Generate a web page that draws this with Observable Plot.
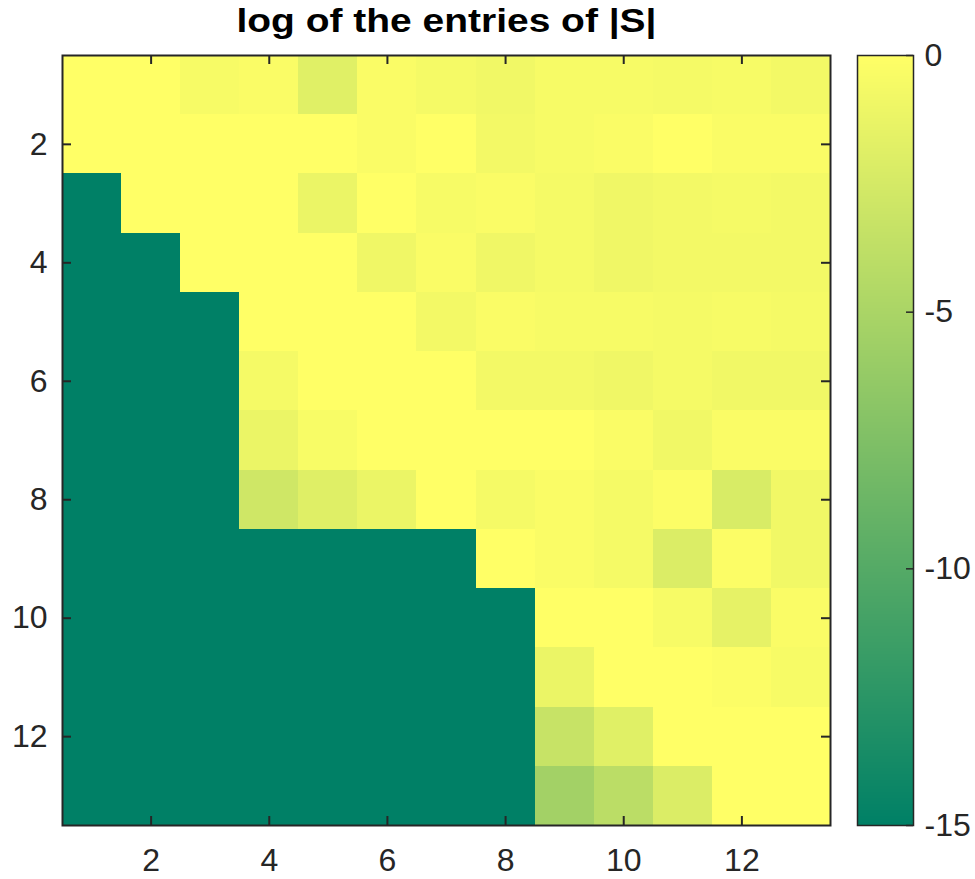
<!DOCTYPE html>
<html>
<head>
<meta charset="utf-8">
<script src="https://cdn.jsdelivr.net/npm/d3@7"></script>
<script src="https://cdn.jsdelivr.net/npm/@observablehq/plot@0.6"></script>
<style>
  html, body { margin: 0; padding: 0; background: #fff; }
  #wrap { display: flex; width: 975px; height: 879px; }
</style>
</head>
<body>
<div id="wrap"></div>
<script>
// log of |S| entries, rows 1..13 (top to bottom), columns 1..13; -15 = floor (zero entries)
const rowLabels = [1,2,3,4,5,6,7,8,9,10,11,12,13];
const colLabels = [1,2,3,4,5,6,7,8,9,10,11,12,13];
const logS = [
  [0, 0, -0.5, -0.3, -1.8, -0.3, -0.6, -0.8, -0.5, -0.5, -0.6, -0.5, -0.7],
  [0, 0, 0, 0, 0, -0.3, 0, -0.7, -0.5, -0.3, 0, -0.3, -0.3],
  [-15, 0, 0, 0, -1.2, 0, -0.5, -0.3, -0.6, -0.9, -0.7, -0.6, -0.7],
  [-15, -15, 0, 0, 0, -0.9, -0.3, -0.9, -0.6, -0.9, -0.7, -0.7, -0.7],
  [-15, -15, -15, 0, 0, 0, -0.7, -0.3, -0.5, -0.5, -0.6, -0.5, -0.6],
  [-15, -15, -15, -0.6, 0, 0, 0, -0.7, -0.7, -0.9, -0.6, -0.8, -0.8],
  [-15, -15, -15, -1.2, -0.4, 0, 0, 0, 0, -0.3, -0.8, -0.3, -0.3],
  [-15, -15, -15, -2.8, -1.9, -1.2, 0, -0.6, -0.3, -0.6, -0.2, -2.3, -0.8],
  [-15, -15, -15, -15, -15, -15, -15, 0, -0.3, -0.6, -2.1, -0.2, -0.8],
  [-15, -15, -15, -15, -15, -15, -15, -15, 0, 0, -0.5, -1.5, -0.3],
  [-15, -15, -15, -15, -15, -15, -15, -15, -1.2, 0, 0, -0.2, -0.5],
  [-15, -15, -15, -15, -15, -15, -15, -15, -3.3, -1.8, 0, 0, 0],
  [-15, -15, -15, -15, -15, -15, -15, -15, -5.4, -4.0, -2.1, 0, 0]
];
const axisTicks = [2, 4, 6, 8, 10, 12];
const colorbarTicks = [0, -5, -10, -15];
const titleText = "log of the entries of |S|";

const cells = [];
rowLabels.forEach((r, i) => colLabels.forEach((c, j) => cells.push({row: r, col: c, v: logS[i][j]})));

const FONT = "'Liberation Sans', Arial, Helvetica, sans-serif";
const summer = ["#008066", "#ffff66"];
const ink = "#262626";
const tickLen = 9;
const labelSize = 32;

const main = Plot.plot({
  width: 845,
  height: 879,
  marginLeft: 62,
  marginRight: 15,
  marginTop: 55,
  marginBottom: 54,
  style: {fontFamily: FONT, fontSize: "32px", color: ink, background: "white", overflow: "visible"},
  x: {domain: [0.5, 13.5], ticks: axisTicks, tickFormat: d => String(d)},
  y: {domain: [0.5, 13.5], reverse: true, ticks: axisTicks, tickFormat: d => String(d)},
  color: {type: "linear", domain: [-15, 0], range: summer, interpolate: "rgb", clamp: true},
  marks: [
    Plot.rect(cells, {
      x1: d => d.col - 0.5, x2: d => d.col + 0.5,
      y1: d => d.row - 0.5, y2: d => d.row + 0.5,
      fill: "v", inset: 0, shapeRendering: "crispEdges"
    }),
    Plot.axisX({ticks: axisTicks, tickSize: 0, tickPadding: 23, fontSize: labelSize, fill: ink}),
    Plot.axisY({ticks: axisTicks, tickSize: 0, tickPadding: 15, fontSize: labelSize, fill: ink}),
    Plot.tickX(axisTicks, {x: d => d, insetTop: 770 - tickLen, stroke: ink, strokeWidth: 2}),
    Plot.tickX(axisTicks, {x: d => d, insetBottom: 770 - tickLen, stroke: ink, strokeWidth: 2}),
    Plot.tickY(axisTicks, {y: d => d, insetLeft: 768 - tickLen, stroke: ink, strokeWidth: 2}),
    Plot.tickY(axisTicks, {y: d => d, insetRight: 768 - tickLen, stroke: ink, strokeWidth: 2}),
    Plot.frame({stroke: ink, strokeWidth: 2}),
    Plot.text([titleText], {
      text: d => d, frameAnchor: "top", dy: -34, lineAnchor: "middle",
      fontSize: 34, fontWeight: "bold", fill: "black"
    })
  ]
});

// stretch the title to the reference's wide rendering
d3.select(main).selectAll("text").filter(function() { return this.textContent === titleText; })
  .attr("textLength", 420).attr("lengthAdjust", "spacingAndGlyphs");

// colorbar: sampled gradient of the color scale
const cbSteps = d3.range(0, 256).map(i => ({lo: -15 + i * 15 / 256, hi: -15 + (i + 1) * 15 / 256}));
const colorbar = Plot.plot({
  width: 130,
  height: 879,
  marginLeft: 12,
  marginRight: 62,
  marginTop: 55,
  marginBottom: 54,
  style: {fontFamily: FONT, fontSize: "32px", color: ink, background: "white", overflow: "visible"},
  x: {domain: [0, 1], axis: null},
  y: {domain: [-15, 0], axis: null},
  color: {type: "linear", domain: [-15, 0], range: summer, interpolate: "rgb"},
  marks: [
    Plot.rect(cbSteps, {x1: 0, x2: 1, y1: "lo", y2: "hi", fill: d => (d.lo + d.hi) / 2, shapeRendering: "crispEdges"}),
    Plot.tickY(colorbarTicks, {y: d => d, insetLeft: 56 - 7, stroke: ink, strokeWidth: 1.5}),
    Plot.axisY({anchor: "right", ticks: colorbarTicks, tickSize: 0, tickPadding: 11, fontSize: labelSize, fill: ink, tickFormat: d => String(d)}),
    Plot.frame({stroke: ink, strokeWidth: 1.5})
  ]
});

document.getElementById("wrap").append(main, colorbar);
</script>
</body>
</html>
